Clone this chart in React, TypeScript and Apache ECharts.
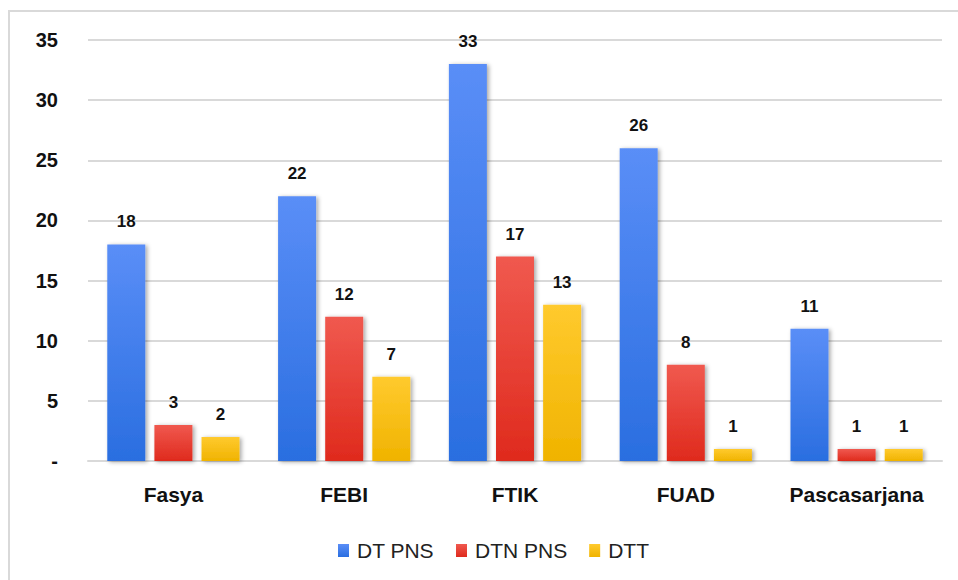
import React, { useEffect, useRef } from "react";
import * as echarts from "echarts";

const categories = ["Fasya", "FEBI", "FTIK", "FUAD", "Pascasarjana"];
const dtPns = [18, 22, 33, 26, 11];
const dtnPns = [3, 12, 17, 8, 1];
const dtt = [2, 7, 13, 1, 1];
const seriesNames = ["DT PNS", "DTN PNS", "DTT"];

const FONT = "'Liberation Sans', Arial, sans-serif";

function grad(top: string, bottom: string) {
  return new echarts.graphic.LinearGradient(0, 0, 0, 1, [
    { offset: 0, color: top },
    { offset: 1, color: bottom },
  ]);
}

export default function App() {
  const ref = useRef<HTMLDivElement>(null);
  useEffect(() => {
    if (!ref.current) return;
    const chart = echarts.init(ref.current, undefined, { renderer: "svg" });
    const label = {
      show: true,
      position: "top" as const,
      distance: 14,
      fontFamily: FONT,
      fontWeight: "bold" as const,
      fontSize: 17,
      color: "#111",
    };
    const shadow = {
      shadowColor: "rgba(0,0,0,0.35)",
      shadowBlur: 4,
      shadowOffsetX: 2,
      shadowOffsetY: 1,
    };
    const colors = [
      ["#5a8ef7", "#2a6ee0"],
      ["#f0594f", "#df2a1d"],
      ["#ffca2e", "#f0b300"],
    ];
    const data = [dtPns, dtnPns, dtt];
    chart.setOption({
      animation: false,
      color: ["#3b7cf0", "#e83a2e", "#fcbf12"],
      graphic: [
        {
          type: "rect",
          shape: { x: 9, y: 11, width: 1000, height: 700 },
          style: { fill: "none", stroke: "#d9d9d9", lineWidth: 2 },
          z: -1,
        },
      ],
      grid: { left: 88, right: 16, top: 40, bottom: 119, containLabel: false },
      legend: {
        bottom: 14,
        left: 333,
        itemWidth: 11,
        itemHeight: 13,
        itemGap: 22,
        icon: "rect",
        textStyle: { fontFamily: FONT, fontSize: 21, color: "#222", padding: [0, 0, 0, 3] },
        data: seriesNames,
      },
      xAxis: {
        type: "category",
        data: categories,
        axisLine: { lineStyle: { color: "#d9d9d9", width: 2 } },
        axisTick: { show: false },
        axisLabel: {
          interval: 0,
          fontFamily: FONT,
          fontWeight: "bold",
          fontSize: 21,
          color: "#111",
          margin: 23,
        },
      },
      yAxis: {
        type: "value",
        min: 0,
        max: 35,
        interval: 5,
        axisLine: { show: false },
        axisTick: { show: false },
        splitLine: { lineStyle: { color: "#d9d9d9", width: 2 } },
        axisLabel: {
          fontFamily: FONT,
          fontWeight: "bold",
          fontSize: 20,
          color: "#111",
          margin: 30,
          formatter: (v: number) => (v === 0 ? "-" : String(v)),
        },
      },
      series: seriesNames.map((name, i) => ({
        name,
        type: "bar",
        data: data[i],
        barWidth: 38,
        barGap: "24%",
        label,
        itemStyle: { color: grad(colors[i][0], colors[i][1]), ...shadow },
      })),
    });
    return () => chart.dispose();
  }, []);
  return (
    <div
      ref={ref}
      style={{ position: "fixed", left: 0, top: 0, width: 958, height: 580, background: "#fff" }}
    />
  );
}
